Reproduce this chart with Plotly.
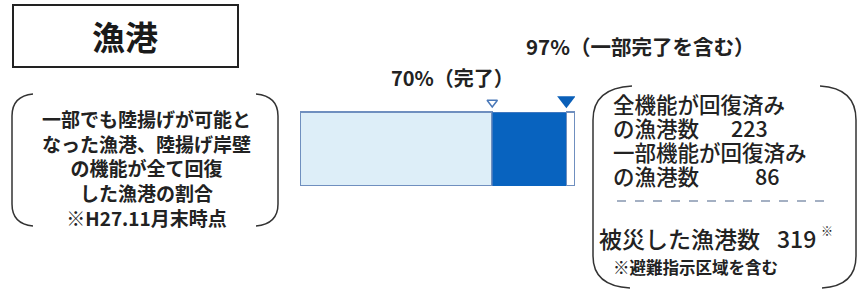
import plotly.graph_objects as go

# ---- data ----
category = ["漁港"]
ports_full_restored = [223]      # 全機能が回復済みの漁港数
ports_partial_restored = [86]    # 一部機能が回復済みの漁港数
ports_damaged = [319]            # 被災した漁港数
ports_remaining = [ports_damaged[0] - ports_full_restored[0] - ports_partial_restored[0]]
label_full = "70%（完了）"
label_partial = "97%（一部完了を含む）"
desc_lines = ["一部でも陸揚げが可能と", "なった漁港、陸揚げ岸壁", "の機能が全て回復", "した漁港の割合", "※H27.11月末時点"]

W, H = 860, 292
FONT = "Noto Sans CJK JP"
TXT = "#222222"

fig = go.Figure()

# stacked horizontal bar (data axes)
fig.add_trace(go.Bar(x=ports_full_restored, y=[0], orientation="h", width=1,
                     marker=dict(color="#ddeef8", line=dict(color="#6f8fbf", width=1.5)),
                     xaxis="x", yaxis="y", hoverinfo="skip", showlegend=False))
fig.add_trace(go.Bar(x=ports_partial_restored, y=[0], orientation="h", width=1,
                     marker=dict(color="#0863bf", line=dict(color="#3f78c0", width=1)),
                     xaxis="x", yaxis="y", hoverinfo="skip", showlegend=False))
fig.add_trace(go.Bar(x=ports_remaining, y=[0], orientation="h", width=1,
                     marker=dict(color="#ffffff", line=dict(color="#6f8fbf", width=1.5)),
                     xaxis="x", yaxis="y", hoverinfo="skip", showlegend=False))

cum_full = ports_full_restored[0]
cum_partial = ports_full_restored[0] + ports_partial_restored[0]
fig.add_trace(go.Scatter(x=[cum_full], y=[0.628], mode="markers",
                         marker=dict(symbol="triangle-down-open", size=9, color="#4a78b8",
                                     line=dict(width=1.5, color="#4a78b8")),
                         xaxis="x", yaxis="y", hoverinfo="skip", showlegend=False))
fig.add_trace(go.Scatter(x=[cum_partial], y=[0.66], mode="markers",
                         marker=dict(symbol="triangle-down", size=16, color="#0a5fb8"),
                         xaxis="x", yaxis="y", hoverinfo="skip", showlegend=False))

# invisible trace for overlay pixel axes
fig.add_trace(go.Scatter(x=[0], y=[0], mode="markers", marker=dict(opacity=0),
                         xaxis="x2", yaxis="y2", hoverinfo="skip", showlegend=False))

shapes = []
# title box
shapes.append(dict(type="rect", xref="x2", yref="y2", x0=13, y0=5, x1=238, y1=67,
                   line=dict(color="#222222", width=2), fillcolor="rgba(0,0,0,0)"))
# left brackets
shapes.append(dict(type="path", xref="x2", yref="y2",
                   path="M 33,94 Q 12,96 12,116 L 12,204 Q 12,224 33,226",
                   line=dict(color="#333333", width=1.5)))
shapes.append(dict(type="path", xref="x2", yref="y2",
                   path="M 256,94 Q 278,96 278,116 L 278,204 Q 278,224 256,226",
                   line=dict(color="#333333", width=1.5)))
# right brackets
shapes.append(dict(type="path", xref="x2", yref="y2",
                   path="M 632,86 Q 593,88 593,120 L 593,256 Q 593,286 630,288",
                   line=dict(color="#333333", width=1.5)))
shapes.append(dict(type="path", xref="x2", yref="y2",
                   path="M 820,86 Q 856,88 856,120 L 856,256 Q 856,286 822,288",
                   line=dict(color="#333333", width=1.5)))
# dashed separator
shapes.append(dict(type="line", xref="x2", yref="y2", x0=617, x1=830, y0=201, y1=201,
                   line=dict(color="#8797b0", width=1.5, dash="dash")))

ann = []
def t(x, y, text, size, xanchor="center", weight=400, color=TXT):
    ann.append(dict(x=x, y=y, xref="x2", yref="y2", text=text, showarrow=False,
                    xanchor=xanchor, yanchor="middle", align="center",
                    font=dict(family=FONT, size=size, color=color, weight=weight)))

t(125, 36, category[0], 33, weight=700, color="#1a1a1a")
t(146, 168, "<br>".join(desc_lines), 19, weight=700)
t(452, 77, label_full, 20, weight=700)
t(524, 46, label_partial, 20.5, xanchor="left", weight=700)

t(611, 103, "全機能が回復済み", 21.5, xanchor="left", weight=500)
t(611, 127, "の漁港数", 21.5, xanchor="left", weight=500)
t(770, 127, str(ports_full_restored[0]), 21.5, xanchor="right", weight=500)
t(611, 151, "一部機能が回復済み", 21.5, xanchor="left", weight=500)
t(611, 175, "の漁港数", 21.5, xanchor="left", weight=500)
t(782, 175, str(ports_partial_restored[0]), 21.5, xanchor="right", weight=500)
t(597, 238, "被災した漁港数", 23, xanchor="left", weight=500)
t(818, 238, str(ports_damaged[0]), 23, xanchor="right", weight=500)
t(819, 230, "※", 12, xanchor="left", weight=500)
t(611, 267, "※避難指示区域を含む", 16.5, xanchor="left", weight=700)

bar_top_px, bar_bot_px = 112, 186
unit_px = bar_bot_px - bar_top_px
y_top_val = 0.85
fig.update_layout(
    width=W, height=H, margin=dict(l=0, r=0, t=0, b=0),
    paper_bgcolor="white", plot_bgcolor="rgba(0,0,0,0)",
    barmode="stack", showlegend=False,
    xaxis=dict(domain=[300 / W, 575 / W], range=[0, ports_damaged[0]], visible=False, fixedrange=True),
    yaxis=dict(domain=[1 - bar_bot_px / H, 1 - (bar_top_px - (y_top_val - 0.5) * unit_px) / H],
               range=[-0.5, y_top_val], visible=False, fixedrange=True),
    xaxis2=dict(domain=[0, 1], range=[0, W], visible=False, anchor="y2", fixedrange=True),
    yaxis2=dict(domain=[0, 1], range=[H, 0], visible=False, anchor="x2", fixedrange=True),
    shapes=shapes, annotations=ann,
)

fig.write_html("out.html", config={"displayModeBar": False},
               post_script="document.body.style.margin='0';document.body.style.overflow='hidden';")
